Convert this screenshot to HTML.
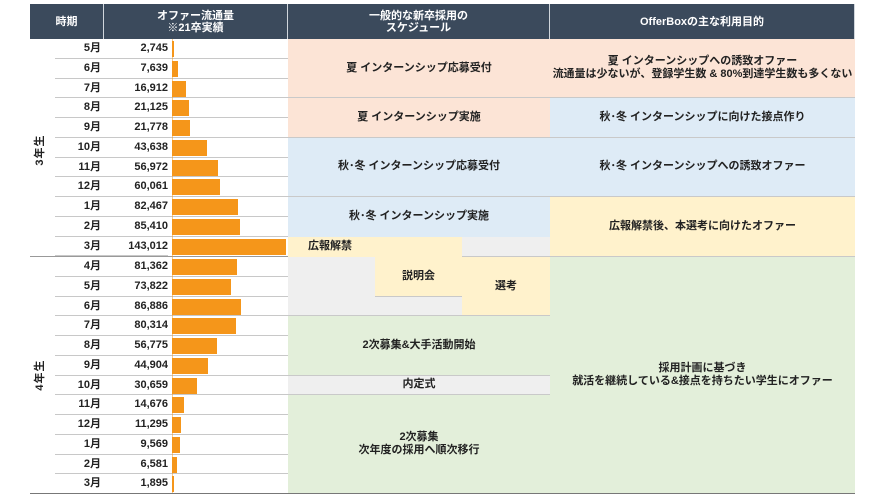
<!DOCTYPE html>
<html><head><meta charset="utf-8"><style>
*{margin:0;padding:0;box-sizing:border-box}
body{width:886px;height:498px;background:#fff;position:relative;overflow:hidden;font-family:"Liberation Sans","Noto Sans CJK JP",sans-serif;font-weight:bold;color:#222;font-size:11px}
div{position:absolute}
.h{top:4px;height:35px;background:#3b4a5c;color:#fff;display:flex;align-items:center;justify-content:center;text-align:center;line-height:12px;font-size:11px;border-right:1px solid #d0d6dc}
.m{left:55px;width:46px;height:19.75px;line-height:19.75px;text-align:right;border-bottom:1px solid #c8c8c8}
.n{left:101px;width:67px;height:19.75px;line-height:19.75px;text-align:right;border-bottom:1px solid #c8c8c8}
.bl{left:168px;width:120px;height:19.75px;border-bottom:1px solid #c8c8c8}
.b{left:172px;height:16px;background:#f5961a}
.c{display:flex;align-items:center;justify-content:center;text-align:center;line-height:13px;border-bottom:1px solid #c9c9c9}
.pe{background:#fce4d6}.bu{background:#deebf6}.ye{background:#fff2cc}.gr{background:#e3efda}.gy{background:#efefef}
.y{width:60px;height:16px;line-height:16px;text-align:center;transform:rotate(-90deg);letter-spacing:1px}
</style></head><body>
<div class="h" style="left:30px;width:74px">時期</div>
<div class="h" style="left:104px;width:184px">オファー流通量<br>※21卒実績</div>
<div class="h" style="left:288px;width:262px">一般的な新卒採用の<br>スケジュール</div>
<div class="h" style="left:550px;width:305px">OfferBoxの主な利用目的</div>

<div class="y" style="left:10px;top:142px">3年生</div>
<div class="y" style="left:10px;top:367px">4年生</div>
<div style="left:30px;top:256px;width:258px;height:1px;background:#999"></div>
<div style="left:30px;top:493px;width:825px;height:1px;background:#777"></div>

<div class="m" style="top:39px">5月</div><div class="n" style="top:39px">2,745</div><div class="bl" style="top:39px"></div><div class="b" style="top:41px;width:2px"></div>
<div class="m" style="top:58.75px">6月</div><div class="n" style="top:58.75px">7,639</div><div class="bl" style="top:58.75px"></div><div class="b" style="top:60.75px;width:6px"></div>
<div class="m" style="top:78.5px">7月</div><div class="n" style="top:78.5px">16,912</div><div class="bl" style="top:78.5px"></div><div class="b" style="top:80.5px;width:13.5px"></div>
<div class="m" style="top:98.25px">8月</div><div class="n" style="top:98.25px">21,125</div><div class="bl" style="top:98.25px"></div><div class="b" style="top:100.25px;width:17px"></div>
<div class="m" style="top:118px">9月</div><div class="n" style="top:118px">21,778</div><div class="bl" style="top:118px"></div><div class="b" style="top:120px;width:17.5px"></div>
<div class="m" style="top:137.75px">10月</div><div class="n" style="top:137.75px">43,638</div><div class="bl" style="top:137.75px"></div><div class="b" style="top:139.75px;width:35px"></div>
<div class="m" style="top:157.5px">11月</div><div class="n" style="top:157.5px">56,972</div><div class="bl" style="top:157.5px"></div><div class="b" style="top:159.5px;width:45.5px"></div>
<div class="m" style="top:177.25px">12月</div><div class="n" style="top:177.25px">60,061</div><div class="bl" style="top:177.25px"></div><div class="b" style="top:179.25px;width:48px"></div>
<div class="m" style="top:197px">1月</div><div class="n" style="top:197px">82,467</div><div class="bl" style="top:197px"></div><div class="b" style="top:199px;width:66px"></div>
<div class="m" style="top:216.75px">2月</div><div class="n" style="top:216.75px">85,410</div><div class="bl" style="top:216.75px"></div><div class="b" style="top:218.75px;width:68px"></div>
<div class="m" style="top:236.5px">3月</div><div class="n" style="top:236.5px">143,012</div><div class="b" style="top:238.5px;width:114px"></div>

<div class="m" style="top:257px">4月</div><div class="n" style="top:257px">81,362</div><div class="bl" style="top:257px"></div><div class="b" style="top:259px;width:65px"></div>
<div class="m" style="top:276.75px">5月</div><div class="n" style="top:276.75px">73,822</div><div class="bl" style="top:276.75px"></div><div class="b" style="top:278.75px;width:59px"></div>
<div class="m" style="top:296.5px">6月</div><div class="n" style="top:296.5px">86,886</div><div class="bl" style="top:296.5px"></div><div class="b" style="top:298.5px;width:69px"></div>
<div class="m" style="top:316.25px">7月</div><div class="n" style="top:316.25px">80,314</div><div class="bl" style="top:316.25px"></div><div class="b" style="top:318.25px;width:64px"></div>
<div class="m" style="top:336px">8月</div><div class="n" style="top:336px">56,775</div><div class="bl" style="top:336px"></div><div class="b" style="top:338px;width:45px"></div>
<div class="m" style="top:355.75px">9月</div><div class="n" style="top:355.75px">44,904</div><div class="bl" style="top:355.75px"></div><div class="b" style="top:357.75px;width:36px"></div>
<div class="m" style="top:375.5px">10月</div><div class="n" style="top:375.5px">30,659</div><div class="bl" style="top:375.5px"></div><div class="b" style="top:377.5px;width:24.5px"></div>
<div class="m" style="top:395.25px">11月</div><div class="n" style="top:395.25px">14,676</div><div class="bl" style="top:395.25px"></div><div class="b" style="top:397.25px;width:11.5px"></div>
<div class="m" style="top:415px">12月</div><div class="n" style="top:415px">11,295</div><div class="bl" style="top:415px"></div><div class="b" style="top:417px;width:9px"></div>
<div class="m" style="top:434.75px">1月</div><div class="n" style="top:434.75px">9,569</div><div class="bl" style="top:434.75px"></div><div class="b" style="top:436.75px;width:7.5px"></div>
<div class="m" style="top:454.5px">2月</div><div class="n" style="top:454.5px">6,581</div><div class="bl" style="top:454.5px"></div><div class="b" style="top:456.5px;width:5px"></div>
<div class="m" style="top:474.25px;border:none">3月</div><div class="n" style="top:474.25px;border:none">1,895</div><div class="b" style="top:476.25px;width:1.5px"></div>

<div class="c pe" style="left:288px;top:39px;width:262px;height:59.25px">夏 インターンシップ応募受付</div>
<div class="c pe" style="left:288px;top:98.25px;width:262px;height:39.5px">夏 インターンシップ実施</div>
<div class="c bu" style="left:288px;top:137.75px;width:262px;height:59.25px">秋･冬 インターンシップ応募受付</div>
<div class="c bu" style="left:288px;top:197px;width:262px;height:39.5px;border:none">秋･冬 インターンシップ実施</div>
<div class="c ye" style="left:288px;top:236.5px;width:174px;height:20.5px;justify-content:flex-start;padding-left:20px;border:none">広報解禁</div>
<div class="c gy" style="left:462px;top:236.5px;width:88px;height:20.5px"></div>
<div class="c gy" style="left:288px;top:257px;width:87px;height:59.25px"></div>
<div class="c ye" style="left:375px;top:257px;width:87px;height:39.5px">説明会</div>
<div class="c gy" style="left:375px;top:296.5px;width:87px;height:19.75px"></div>
<div class="c ye" style="left:462px;top:257px;width:88px;height:59.25px">選考</div>
<div class="c gr" style="left:288px;top:316.25px;width:262px;height:59.25px">2次募集&amp;大手活動開始</div>
<div class="c gy" style="left:288px;top:375.5px;width:262px;height:19.75px">内定式</div>
<div class="c gr" style="left:288px;top:395.25px;width:262px;height:98px;border:none">2次募集<br>次年度の採用へ順次移行</div>

<div class="c pe" style="left:550px;top:39px;width:305px;height:59.25px">夏 インターンシップへの誘致オファー<br>流通量は少ないが、登録学生数 &amp; 80%到達学生数も多くない</div>
<div class="c bu" style="left:550px;top:98.25px;width:305px;height:39.5px">秋･冬 インターンシップに向けた接点作り</div>
<div class="c bu" style="left:550px;top:137.75px;width:305px;height:59.25px">秋･冬 インターンシップへの誘致オファー</div>
<div class="c ye" style="left:550px;top:197px;width:305px;height:60px">広報解禁後、本選考に向けたオファー</div>
<div class="c gr" style="left:550px;top:257px;width:305px;height:236px;border:none">採用計画に基づき<br>就活を継続している&amp;接点を持ちたい学生にオファー</div>
<div style="left:172px;top:39px;width:1px;height:454px;background:#f5961a;opacity:.5"></div>
</body></html>
